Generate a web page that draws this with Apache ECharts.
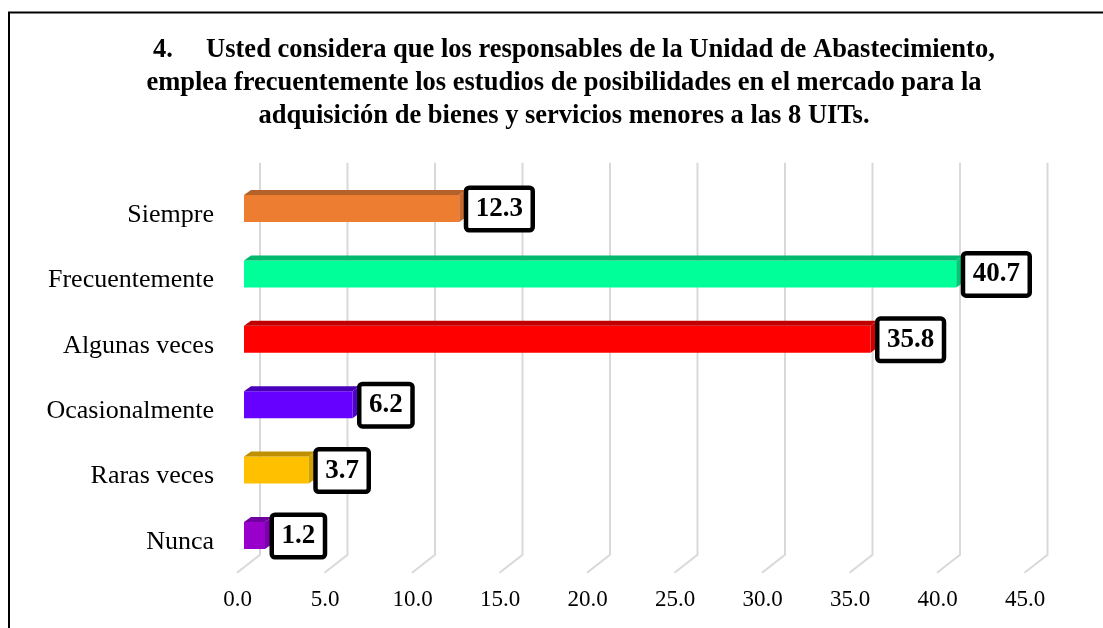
<!DOCTYPE html>
<html>
<head>
<meta charset="utf-8">
<script src="https://cdn.jsdelivr.net/npm/echarts@6/dist/echarts.min.js"></script>
<style>
html,body{margin:0;padding:0;background:#fff;}
#chart{width:1103px;height:628px;}
</style>
</head>
<body>
<div id="chart"></div>
<script>
// ---- data ----
const titleLines = [
  '   4.     Usted considera que los responsables de la Unidad de Abastecimiento,',
  'emplea frecuentemente los estudios de posibilidades en el mercado para la',
  'adquisición de bienes y servicios menores a las 8 UITs.'
];
const categories = ['Siempre', 'Frecuentemente', 'Algunas veces', 'Ocasionalmente', 'Raras veces', 'Nunca'];
const values = [12.3, 40.7, 35.8, 6.2, 3.7, 1.2];
const tickValues = [0, 5, 10, 15, 20, 25, 30, 35, 40, 45];

// ---- styles ----
const frontColors = ['#ED7D31', '#00FF99', '#FF0000', '#6600FF', '#FFC000', '#9900CC'];
const topColors   = ['#B5612A', '#00B86E', '#C00000', '#4A00BA', '#BF9000', '#7000A0'];
const sideColors  = ['#C8682C', '#00C877', '#D00000', '#5200CC', '#D0A000', '#7A00AA'];
const serif = '"Liberation Serif", "Times New Roman", serif';

const barData = values.map((v, i) => [v, i]);
const gridData = tickValues.map(t => [t, 0]);

const chart = echarts.init(document.getElementById('chart'));
chart.setOption({
  animation: false,
  backgroundColor: '#fff',
  title: {
    text: titleLines.join('\n'),
    left: 559,
    top: 29,
    textAlign: 'center',
    textStyle: {
      fontFamily: serif,
      fontWeight: 'bold',
      fontSize: 26.5,
      lineHeight: 33,
      color: '#000'
    }
  },
  graphic: [{
    type: 'rect',
    shape: { x: 9, y: 12.5, width: 1200, height: 700 },
    style: { fill: 'none', stroke: '#000', lineWidth: 2 },
    silent: true
  }],
  grid: { left: 244, width: 787.5, top: 182.3, height: 392.4, containLabel: false },
  xAxis: {
    type: 'value',
    min: 0, max: 45, interval: 5,
    axisLine: { show: false },
    axisTick: { show: false },
    splitLine: { show: false },
    axisLabel: {
      margin: 14,
      padding: [0, 13, 0, 0],
      fontFamily: serif,
      fontSize: 23,
      color: '#000',
      formatter: v => v.toFixed(1)
    }
  },
  yAxis: {
    type: 'category',
    inverse: true,
    data: categories,
    axisLine: { show: false },
    axisTick: { show: false },
    splitLine: { show: false },
    axisLabel: {
      margin: 30,
      fontFamily: serif,
      fontSize: 26,
      color: '#000'
    }
  },
  series: [
    {
      type: 'custom',
      silent: true,
      clip: false,
      z: 1,
      data: gridData,
      encode: { x: 0, y: 1 },
      renderItem: function (params, api) {
        const cs = params.coordSys;
        const x = api.coord([api.value(0), 0])[0];
        const yTop = cs.y - 19.5;
        const yBot = cs.y + cs.height - 20;
        const yFloor = cs.y + cs.height - 2;
        return {
          type: 'polyline',
          shape: { points: [[x + 16, yTop], [x + 16, yBot], [x - 7, yFloor]] },
          style: { stroke: '#D9D9D9', lineWidth: 2, fill: null }
        };
      }
    },
    {
      type: 'custom',
      clip: false,
      z: 3,
      data: barData,
      encode: { x: 0, y: 1 },
      renderItem: function (params, api) {
        const v = api.value(0);
        const ci = api.value(1);
        const p0 = api.coord([0, ci]);
        const p1 = api.coord([v, ci]);
        const c = p0[1];
        const x0 = p0[0], x1 = p1[0];
        const top = c - 20, bot = c + 7, dx = 7, dy = 5;
        return {
          type: 'group',
          children: [
            { type: 'rect', shape: { x: x0, y: top, width: x1 - x0, height: bot - top },
              style: { fill: frontColors[ci] } },
            { type: 'polygon', shape: { points: [[x0, top], [x0 + dx, top - dy], [x1 + dx, top - dy], [x1, top]] },
              style: { fill: topColors[ci] } },
            { type: 'polygon', shape: { points: [[x1, top], [x1 + dx, top - dy], [x1 + dx, bot - dy], [x1, bot]] },
              style: { fill: sideColors[ci] } },
            { type: 'text', x: x1 + 9, y: c - 6, z2: 10,
              style: {
                text: v.toFixed(1),
                font: 'bold 27px ' + serif,
                fill: '#000',
                align: 'left',
                verticalAlign: 'middle',
                lineHeight: 26,
                backgroundColor: '#fff',
                borderColor: '#000',
                borderWidth: 4.5,
                borderRadius: 1,
                padding: [6, 7.5]
              } }
          ]
        };
      }
    }
  ]
});
</script>
</body>
</html>
